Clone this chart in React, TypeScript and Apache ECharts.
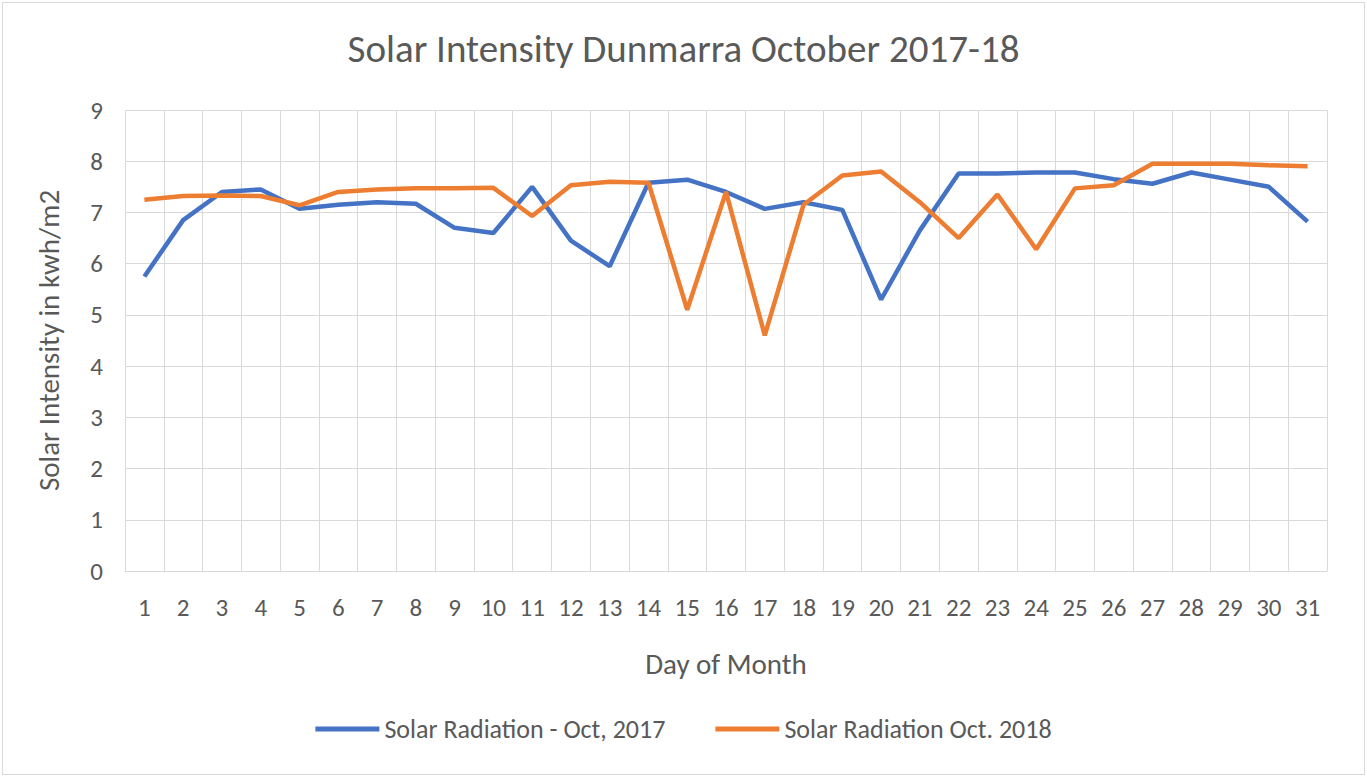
import React, { useEffect, useRef } from "react";
import * as echarts from "echarts";

const days = Array.from({ length: 31 }, (_, i) => String(i + 1));
const oct2017 = [5.75, 6.85, 7.4, 7.45, 7.07, 7.15, 7.2, 7.17, 6.7, 6.6, 7.5, 6.45, 5.95, 7.58, 7.64, 7.4, 7.07, 7.2, 7.05, 5.3, 6.65, 7.76, 7.76, 7.78, 7.78, 7.65, 7.56, 7.78, 7.64, 7.5, 6.82];
const oct2018 = [7.25, 7.32, 7.33, 7.32, 7.14, 7.4, 7.45, 7.47, 7.47, 7.48, 6.93, 7.53, 7.6, 7.58, 5.1, 7.4, 4.6, 7.15, 7.72, 7.8, 7.2, 6.5, 7.35, 6.28, 7.47, 7.53, 7.95, 7.95, 7.95, 7.92, 7.9];

export default function App() {
  const ref = useRef<HTMLDivElement>(null);
  useEffect(() => {
    const chart = echarts.init(ref.current!, null, { renderer: "svg" });
    const font = "Calibri, Carlito, 'Liberation Sans', sans-serif";
    chart.setOption({
      animation: false,
      textStyle: { fontFamily: font },
      title: { text: "Solar Intensity Dunmarra October 2017-18", left: "center", top: 24, textStyle: { fontSize: 39, fontWeight: "normal", color: "#595959", fontFamily: font } },
      grid: { left: 125, right: 40, top: 110, bottom: 206 },
      legend: { bottom: 30, itemGap: 50, itemWidth: 64, icon: "rect", itemHeight: 5, textStyle: { fontSize: 26, color: "#595959" } },
      xAxis: {
        type: "category", data: days, boundaryGap: true,
        name: "Day of Month", nameLocation: "middle", nameGap: 78, nameTextStyle: { fontSize: 29, color: "#595959" },
        axisLine: { lineStyle: { color: "#d9d9d9" } }, axisTick: { show: false },
        axisLabel: { fontSize: 25, color: "#595959", margin: 24 },
        splitLine: { show: true, interval: 0, lineStyle: { color: "#d9d9d9" } },
      },
      yAxis: {
        type: "value", min: 0, max: 9, interval: 1,
        name: "Solar Intensity in kwh/m2", nameLocation: "middle", nameGap: 62, nameTextStyle: { fontSize: 29, color: "#595959" },
        axisLabel: { fontSize: 25, color: "#595959", margin: 22 },
        splitLine: { lineStyle: { color: "#d9d9d9" } },
      },
      series: [
        { name: "Solar Radiation - Oct, 2017", type: "line", data: oct2017, showSymbol: false, lineStyle: { width: 4.5, color: "#4472c4" }, itemStyle: { color: "#4472c4" } },
        { name: "Solar Radiation Oct. 2018", type: "line", data: oct2018, showSymbol: false, lineStyle: { width: 4.5, color: "#ed7d31" }, itemStyle: { color: "#ed7d31" } },
      ],
    });
    return () => chart.dispose();
  }, []);
  return (
    <div style={{ position: "fixed", left: 0, top: 0, width: 1367, height: 777, background: "#fff" }}>
      <div style={{ position: "absolute", left: 2, top: 2, width: 1361, height: 771, border: "1px solid #d9d9d9" }} />
      <div ref={ref} style={{ position: "absolute", left: 0, top: 0, width: 1367, height: 777 }} />
    </div>
  );
}
